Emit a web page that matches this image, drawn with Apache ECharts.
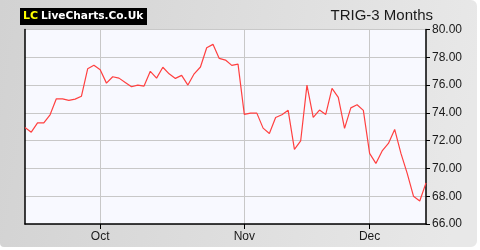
<!DOCTYPE html>
<html><head><meta charset="utf-8">
<script src="https://cdn.jsdelivr.net/npm/echarts@6/dist/echarts.min.js"></script>
<style>html,body{margin:0;padding:0;background:#fff;}#c{width:480px;height:250px;}</style>
</head><body><div id="c"></div>
<script>
var prices = [72.95,72.61,73.28,73.28,73.86,75.01,75.01,74.90,74.99,75.19,
  77.17,77.42,77.10,76.14,76.60,76.50,76.19,75.88,76.00,75.93,
  76.99,76.50,77.28,76.81,76.48,76.70,76.00,76.81,77.30,78.69,
  78.93,77.92,77.80,77.42,77.51,73.89,73.98,73.98,72.90,72.52,
  73.67,73.86,74.18,71.37,71.99,76.00,73.67,74.20,73.89,75.76,
  75.11,72.88,74.36,74.58,74.18,71.08,70.36,71.26,71.80,72.81,
  71.08,69.64,68.00,67.66,68.96];
var monthLabels = {12:'Oct', 35:'Nov', 55:'Dec'};
var categories = prices.map(function(v,i){ return monthLabels[i] || ''; });
var yTicks = [66,68,70,72,74,76,78,80];
var title = 'TRIG-3 Months';

var chart = echarts.init(document.getElementById('c'), null, {renderer:'canvas'});
function isMonth(i){ return monthLabels[i] !== undefined; }
chart.setOption({
  animation:false,
  backgroundColor:'#fff',
  graphic:[
    {type:'rect', z:-10, shape:{x:0,y:0,width:477,height:247,r:[0,6,6,4]},
     style:{fill:new echarts.graphic.LinearGradient(0,0,1,0.3,[{offset:0,color:'#d2d2d2'},{offset:1,color:'#e8e8e8'}])}},
    {type:'rect', z:-9, shape:{x:25,y:29.5,width:401,height:194.5}, style:{fill:'#f8f9ff'}},
    {type:'rect', z:5, shape:{x:20,y:8,width:127,height:17}, style:{fill:'#000'}},
    {type:'text', z:6, style:{x:23,y:16.5,text:'LC',fill:'#ffff00',font:'bold 11px "DejaVu Sans"',verticalAlign:'middle'}},
    {type:'text', z:6, style:{x:41,y:16.5,text:'LiveCharts.Co.Uk',fill:'#ffffff',font:'bold 10.6px "DejaVu Sans"',verticalAlign:'middle'}},
    {type:'text', z:6, style:{x:433,y:16,text:title,fill:'#1a1a1a',font:'15px "Liberation Sans"',align:'right',verticalAlign:'middle'}}
  ],
  grid:{left:25,right:54,top:29.5,bottom:26,show:false},
  xAxis:{type:'category',data:categories,boundaryGap:false,
    axisLine:{show:true,lineStyle:{color:'#000',width:1.5}},
    axisTick:{show:true,interval:function(i){return isMonth(i);},length:5,inside:false,lineStyle:{color:'#000'}},
    axisLabel:{interval:function(i){return isMonth(i);},color:'#1a1a1a',fontFamily:'Liberation Sans',fontSize:12,margin:7},
    splitLine:{show:true,interval:function(i){return isMonth(i);},lineStyle:{color:'#c8c8c8',width:1}}
  },
  yAxis:[{type:'value',position:'right',min:yTicks[0],max:yTicks[yTicks.length-1],interval:2,
    axisLine:{show:true,lineStyle:{color:'#000',width:1.5}},
    axisTick:{show:true,length:4,lineStyle:{color:'#000'}},
    axisLabel:{color:'#1a1a1a',fontFamily:'Liberation Sans',fontSize:12,margin:6,formatter:function(v){return v.toFixed(2);}},
    splitLine:{show:true,lineStyle:{color:'#c8c8c8',width:1}}
  },{type:'value',position:'left',min:yTicks[0],max:yTicks[yTicks.length-1],interval:2,
    axisLine:{show:true,lineStyle:{color:'#000',width:1.5}},
    axisTick:{show:false},axisLabel:{show:false},splitLine:{show:false}
  }],
  series:[{type:'line',data:prices,symbol:'none',lineStyle:{color:'#ff4040',width:1.2}}]
});
</script>
</body></html>
